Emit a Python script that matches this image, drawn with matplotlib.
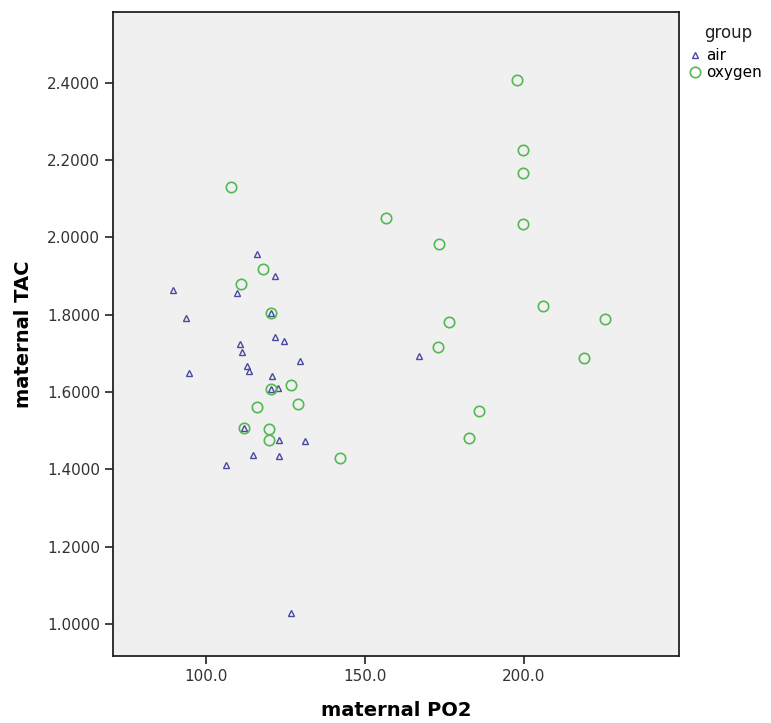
import matplotlib.pyplot as plt

# air group (triangles)
air_po2 = [115.9, 121.6, 89.5, 109.8, 93.7, 120.3, 121.8, 124.4, 110.6, 111.3,
           129.6, 112.9, 113.6, 94.6, 120.8, 120.3, 122.7, 111.9, 123.0, 131.0,
           114.8, 123.0, 106.2, 166.9, 126.6]
air_tac = [1.957, 1.900, 1.864, 1.856, 1.792, 1.804, 1.742, 1.732, 1.724, 1.702,
           1.681, 1.666, 1.653, 1.648, 1.642, 1.608, 1.610, 1.506, 1.476, 1.474,
           1.438, 1.435, 1.412, 1.693, 1.029]

# oxygen group (circles)
oxy_po2 = [107.8, 117.8, 110.9, 120.3, 126.8, 128.9, 115.9, 111.9, 119.9, 119.9,
           142.1, 120.3, 197.7, 199.8, 199.8, 199.8, 156.6, 173.3, 205.8, 225.5,
           176.4, 173.0, 218.7, 185.9, 182.8]
oxy_tac = [2.130, 1.918, 1.878, 1.804, 1.618, 1.569, 1.562, 1.506, 1.504, 1.476,
           1.428, 1.608, 2.407, 2.225, 2.166, 2.035, 2.050, 1.982, 1.823, 1.788,
           1.780, 1.717, 1.687, 1.551, 1.482]

x_ticks = [100, 150, 200]
y_ticks = [1.0, 1.2, 1.4, 1.6, 1.8, 2.0, 2.2, 2.4]

fig = plt.figure(figsize=(7.71, 7.23), dpi=100)
ax = fig.add_axes([0.147, 0.0927, 0.734, 0.891])
ax.set_facecolor("#f0f0f0")

ax.plot(air_po2, air_tac, linestyle="none", marker="^", markersize=4.5,
        markerfacecolor="none", markeredgecolor="#4a4aa0", markeredgewidth=1.0,
        label="air")
ax.plot(oxy_po2, oxy_tac, linestyle="none", marker="o", markersize=7.5,
        markerfacecolor="none", markeredgecolor="#55b855", markeredgewidth=1.2,
        label="oxygen")

ax.set_xlim(70.85, 248.8)
ax.set_ylim(0.917, 2.583)
ax.set_xticks(x_ticks)
ax.set_xticklabels([f"{v:.1f}" for v in x_ticks])
ax.set_yticks(y_ticks)
ax.set_yticklabels([f"{v:.4f}" for v in y_ticks])
ax.tick_params(direction="out", length=6, width=1.2, colors="#222222",
               labelsize=11, labelcolor="#333333", top=False, right=False)

for sp in ax.spines.values():
    sp.set_linewidth(1.3)
    sp.set_color("#222222")

ax.set_xlabel("maternal PO2", fontsize=14, fontweight="bold", labelpad=12)
ax.set_ylabel("maternal TAC", fontsize=14, fontweight="bold", labelpad=10)

# legend: title as separate text, entries below
fig.text(728 / 771, 1 - 33 / 723, "group", fontsize=12, color="#222222",
         ha="center", va="center")
ax.legend(loc="upper left", bbox_to_anchor=(687 / 771, 1 - 48 / 723),
          bbox_transform=fig.transFigure, frameon=False, fontsize=11,
          handletextpad=0.25, handlelength=1.0, borderaxespad=0,
          borderpad=0, labelspacing=0.15)

fig.savefig("out.png", dpi=100)
